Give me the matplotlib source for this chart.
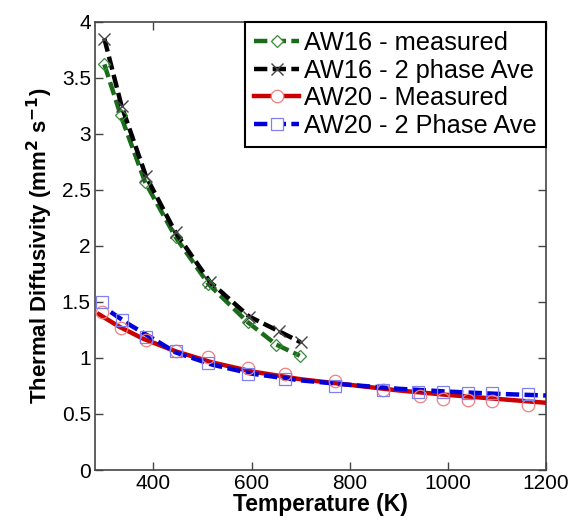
import matplotlib.pyplot as plt
import numpy as np
from matplotlib.ticker import FuncFormatter

plt.rcParams['font.family'] = ['Liberation Sans', 'DejaVu Sans']

# AW16 - measured (green diamonds)
t16_meas = [300, 333, 383, 445, 512, 592, 650, 698]
d16_meas = [3.62, 3.17, 2.57, 2.08, 1.66, 1.32, 1.12, 1.02]

# AW16 - 2 phase average (black crosses)
t16_ave = [300, 335, 385, 445, 515, 595, 655, 700]
d16_ave = [3.85, 3.25, 2.62, 2.12, 1.68, 1.37, 1.24, 1.14]

# AW20 - measured (red circles) and its fitted line
t20_meas = [295, 334, 385, 445, 511, 593, 669, 770, 868, 943, 990, 1040, 1089, 1163]
d20_meas = [1.41, 1.27, 1.16, 1.06, 1.01, 0.91, 0.86, 0.79, 0.71, 0.66, 0.63, 0.625, 0.62, 0.58]
t20_meas_fit = [289, 330, 380, 445, 520, 600, 700, 800, 900, 1000, 1100, 1200]
d20_meas_fit = [1.39, 1.28, 1.17, 1.06, 0.96, 0.88, 0.81, 0.76, 0.71, 0.67, 0.635, 0.60]

# AW20 - 2 phase average (blue squares) and its fitted line
t20_ave = [295, 336, 385, 445, 511, 593, 669, 770, 868, 940, 990, 1040, 1089, 1163]
d20_ave = [1.50, 1.34, 1.19, 1.06, 0.955, 0.86, 0.81, 0.75, 0.71, 0.70, 0.70, 0.69, 0.69, 0.68]
t20_ave_fit = [313, 350, 400, 445, 520, 600, 700, 800, 900, 1000, 1100, 1200]
d20_ave_fit = [1.41, 1.30, 1.17, 1.05, 0.94, 0.86, 0.80, 0.76, 0.725, 0.70, 0.68, 0.665]

fig = plt.figure(figsize=(5.71, 5.23), dpi=100)
ax = fig.add_axes([0.1664, 0.1013, 0.790, 0.857])

dash = (0, (3, 1.2))

# AW16 series: dashed lines through the points
ax.plot(t16_meas, d16_meas, color='#1a6b1a', linestyle=dash, linewidth=3.2, zorder=3)
ax.plot(t16_meas, d16_meas, linestyle='none', marker='D', markersize=6,
        markerfacecolor='none', markeredgecolor='#3a8a3a', markeredgewidth=0.9, zorder=4)
ax.plot(t16_ave, d16_ave, color='black', linestyle=dash, linewidth=3.2, zorder=3)
ax.plot(t16_ave, d16_ave, linestyle='none', marker='x', markersize=9,
        markeredgecolor='#444444', markeredgewidth=1.0, zorder=4)

# AW20 series: fitted lines plus markers
ax.plot(t20_meas_fit, d20_meas_fit, color='#cc0000', linewidth=3.2, zorder=3)
ax.plot(t20_meas, d20_meas, linestyle='none', marker='o', markersize=9,
        markerfacecolor='none', markeredgecolor='#f08080', markeredgewidth=0.9, zorder=4)
ax.plot(t20_ave_fit, d20_ave_fit, color='#0000dd', linestyle=dash, linewidth=3.2, zorder=3)
ax.plot(t20_ave, d20_ave, linestyle='none', marker='s', markersize=9,
        markerfacecolor='none', markeredgecolor='#8080f0', markeredgewidth=0.9, zorder=4)

# legend handles
h1, = ax.plot([], [], color='#1a6b1a', linestyle=dash, linewidth=3.2, marker='D',
              markersize=6, markerfacecolor='white', markeredgecolor='#3a8a3a', markeredgewidth=0.9)
h2, = ax.plot([], [], color='black', linestyle=dash, linewidth=3.2, marker='x',
              markersize=9, markeredgecolor='#444444', markeredgewidth=1.0)
h3, = ax.plot([], [], color='#cc0000', linewidth=3.2, marker='o', markersize=9,
              markerfacecolor='white', markeredgecolor='#f08080', markeredgewidth=0.9)
h4, = ax.plot([], [], color='#0000dd', linestyle=dash, linewidth=3.2, marker='s',
              markersize=9, markerfacecolor='white', markeredgecolor='#8080f0', markeredgewidth=0.9)
leg = ax.legend([h1, h2, h3, h4],
                ['AW16 - measured', 'AW16 - 2 phase Ave', 'AW20 - Measured', 'AW20 - 2 Phase Ave'],
                loc='upper right', fontsize=18.3, frameon=True, fancybox=False,
                borderaxespad=0, handlelength=1.8, handletextpad=0.2,
                labelspacing=0.15, borderpad=0.35)
leg.get_frame().set_edgecolor('black')
leg.get_frame().set_linewidth(1.5)
leg.get_frame().set_alpha(1)

ax.set_xlim(281, 1200)
ax.set_ylim(0, 4)
ax.set_xticks([400, 600, 800, 1000, 1200])
ax.set_yticks(np.arange(0, 4.01, 0.5))
ax.yaxis.set_major_formatter(FuncFormatter(lambda v, p: '%g' % v))
ax.tick_params(direction='in', top=True, right=True, length=6, width=1,
               color='#444444', labelsize=15, pad=3)
for s in ax.spines.values():
    s.set_color('#444444')
    s.set_linewidth(1.2)

ax.set_xlabel('Temperature (K)', fontsize=16.5, fontweight='bold', labelpad=0)
ax.set_ylabel('Thermal Diffusivity (mm$^{\\mathbf{2}}$ s$^{\\mathbf{-1}}$)',
              fontsize=16, fontweight='bold', labelpad=5)

plt.savefig('out.png', dpi=100)
